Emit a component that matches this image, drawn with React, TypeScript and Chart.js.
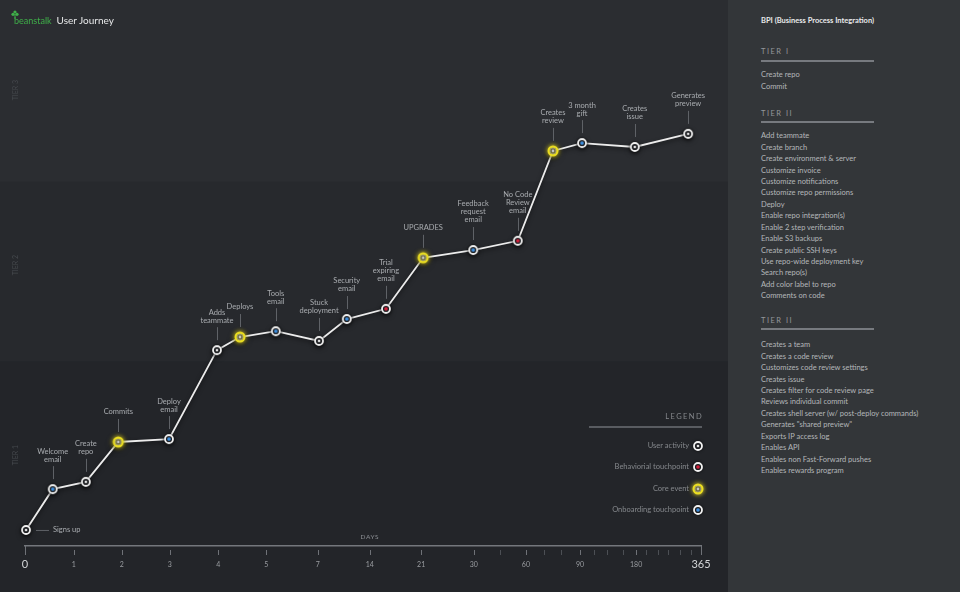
import React, { useEffect, useRef } from "react";
import { Chart, registerables } from "chart.js";

Chart.register(...registerables);

// ---------- data ----------
const axisTickPositions = [0, 7.2, 14.3, 21.4, 28.6, 35.7, 43.3, 51.0, 58.6, 66.4, 74.1, 82.1, 90.4, 100];
const axisTickLabels = ["0", "1", "2", "3", "4", "5", "7", "14", "21", "30", "60", "90", "180", "365"];
const minorTickPositions = [70.3, 76.8, 79.3, 84.2, 86.1, 88.5, 91.9, 93.6, 95.1, 96.9, 98.5];

const eventLabels: string[][] = [
  ["Signs up"],
  ["Welcome", "email"],
  ["Create", "repo"],
  ["Commits"],
  ["Deploy", "email"],
  ["Adds", "teammate"],
  ["Deploys"],
  ["Tools", "email"],
  ["Stuck", "deployment"],
  ["Security", "email"],
  ["Trial", "expiring", "email"],
  ["UPGRADES"],
  ["Feedback", "request", "email"],
  ["No Code", "Review", "email"],
  ["Creates", "review"],
  ["3 month", "gift"],
  ["Creates", "issue"],
  ["Generates", "preview"],
];
const eventTypes = [
  "user", "onboarding", "user", "core", "onboarding", "user", "core", "onboarding", "user",
  "onboarding", "behavioral", "core", "onboarding", "behavioral", "core", "onboarding", "user", "user",
];
const eventDayPosition = [0.15, 4.1, 9.0, 13.8, 21.3, 28.4, 31.8, 37.1, 43.5, 47.6, 53.4, 58.9, 66.3, 72.9, 78.1, 82.4, 90.2, 98.1];
const eventLevel = [3.3, 11.7, 13.2, 21.4, 22.0, 40.3, 43.0, 44.2, 42.2, 46.7, 48.8, 59.3, 60.9, 62.8, 81.3, 82.9, 82.1, 84.8];

const tierLabels = ["TIER 1", "TIER 2", "TIER 3"];
const tierLabelLevels = [18.7, 57.8, 93.8];
const tierBoundaries = [37.9, 74.9];

const legendLabels = ["User activity", "Behaviorial touchpoint", "Core event", "Onboarding touchpoint"];
const legendTypes = ["user", "behavioral", "core", "onboarding"];

const tier1Items = ["Create repo", "Commit"];
const tier2Items = [
  "Add teammate", "Create branch", "Create environment & server", "Customize invoice",
  "Customize notifications", "Customize repo permissions", "Deploy", "Enable repo integration(s)",
  "Enable 2 step verification", "Enable S3 backups", "Create public SSH keys",
  "Use repo-wide deployment key", "Search repo(s)", "Add color label to repo", "Comments on code",
];
const tier3Items = [
  "Creates a team", "Creates a code review", "Customizes code review settings", "Creates issue",
  "Creates filter for code review page", "Reviews individual commit",
  "Creates shell server (w/ post-deploy commands)", 'Generates "shared preview"',
  "Exports IP access log", "Enables API", "Enables non Fast-Forward pushes", "Enables rewards program",
];

// ---------- styles ----------
const FONT = "Lato, 'Open Sans', sans-serif";

function makeMarker(kind: string): HTMLCanvasElement {
  const s = 22;
  const c = document.createElement("canvas");
  c.width = s;
  c.height = s;
  const g = c.getContext("2d")!;
  const m = s / 2;
  if (kind === "core") {
    g.shadowColor = "rgba(240,225,40,0.85)";
    g.shadowBlur = 5;
    g.beginPath();
    g.arc(m, m, 4.4, 0, Math.PI * 2);
    g.fillStyle = "#2a2c30";
    g.fill();
    g.lineWidth = 2.2;
    g.strokeStyle = "#ebde22";
    g.stroke();
    g.shadowBlur = 0;
    g.beginPath();
    g.arc(m, m, 2.9, 0, Math.PI * 2);
    g.lineWidth = 0.7;
    g.strokeStyle = "rgba(255,255,255,0.45)";
    g.stroke();
    g.beginPath();
    g.arc(m, m, 1.4, 0, Math.PI * 2);
    g.fillStyle = "#c4c4c4";
    g.fill();
  } else {
    g.shadowColor = "rgba(0,0,0,0.6)";
    g.shadowBlur = 3;
    g.beginPath();
    g.arc(m, m, 4.0, 0, Math.PI * 2);
    g.fillStyle = "#25272b";
    g.fill();
    g.lineWidth = 1.8;
    g.strokeStyle = "#f2f2f2";
    g.stroke();
    g.shadowBlur = 0;
    const col = kind === "onboarding" ? "#3d8fe0" : kind === "behavioral" ? "#d4203b" : "#e2e2e2";
    g.beginPath();
    g.arc(m, m, kind === "user" ? 1.3 : 1.8, 0, Math.PI * 2);
    g.fillStyle = col;
    g.fill();
  }
  return c;
}

export default function App() {
  const ref = useRef<HTMLCanvasElement | null>(null);

  useEffect(() => {
    document.body.style.margin = "0";
    const canvas = ref.current;
    if (!canvas) return;
    const markers: Record<string, HTMLCanvasElement> = {
      user: makeMarker("user"),
      onboarding: makeMarker("onboarding"),
      behavioral: makeMarker("behavioral"),
      core: makeMarker("core"),
    };

    const bandsPlugin = {
      id: "tierBands",
      beforeDraw(chart: any) {
        const { ctx, width, height } = chart;
        const ys = chart.scales.y;
        const b1 = ys.getPixelForValue(tierBoundaries[0]);
        const b2 = ys.getPixelForValue(tierBoundaries[1]);
        ctx.save();
        ctx.fillStyle = "#2b2d31";
        ctx.fillRect(0, 0, width, b2);
        ctx.fillStyle = "#27292d";
        ctx.fillRect(0, b2, width, b1 - b2);
        ctx.fillStyle = "#232529";
        ctx.fillRect(0, b1, width, height - b1);
        ctx.restore();
      },
    };

    const decoPlugin = {
      id: "journeyDeco",
      beforeDatasetsDraw(chart: any) {
        const ctx = chart.ctx;
        ctx.save();
        ctx.shadowColor = "rgba(0,0,0,0.55)";
        ctx.shadowBlur = 4;
        ctx.shadowOffsetY = 2;
      },
      afterDatasetsDraw(chart: any) {
        const ctx = chart.ctx;
        ctx.restore();
        const meta = chart.getDatasetMeta(0);
        ctx.save();
        ctx.font = `7.5px ${FONT}`;
        ctx.fillStyle = "#a9acb0";
        ctx.strokeStyle = "#5f6267";
        ctx.lineWidth = 1;
        meta.data.forEach((pt: any, i: number) => {
          const lines = eventLabels[i];
          const x = pt.x;
          const y = pt.y;
          if (i === 0) {
            ctx.beginPath();
            ctx.moveTo(x + 10, y + 0.5);
            ctx.lineTo(x + 23, y + 0.5);
            ctx.stroke();
            ctx.textAlign = "left";
            ctx.textBaseline = "middle";
            ctx.fillText(lines[0], x + 27, y);
            return;
          }
          ctx.beginPath();
          ctx.moveTo(Math.round(x) + 0.5, y - 23);
          ctx.lineTo(Math.round(x) + 0.5, y - 10);
          ctx.stroke();
          ctx.textAlign = "center";
          ctx.textBaseline = "middle";
          const n = lines.length;
          lines.forEach((t, j) => {
            ctx.fillText(t, x, y - 30 - (n - 1 - j) * 8);
          });
        });
        ctx.restore();
      },
      afterDraw(chart: any) {
        const { ctx, chartArea } = chart;
        const xs = chart.scales.x;
        const bottom = chartArea.bottom;
        ctx.save();
        ctx.lineWidth = 1;
        axisTickPositions.forEach((v) => {
          const px = Math.round(xs.getPixelForValue(v)) + 0.5;
          const end = v === 0 || v === 100;
          ctx.strokeStyle = "#6f7277";
          ctx.beginPath();
          ctx.moveTo(px, end ? bottom : bottom + 4);
          ctx.lineTo(px, bottom + 9);
          ctx.stroke();
        });
        minorTickPositions.forEach((v) => {
          const px = Math.round(xs.getPixelForValue(v)) + 0.5;
          ctx.strokeStyle = "#4c4f54";
          ctx.beginPath();
          ctx.moveTo(px, bottom + 4);
          ctx.lineTo(px, bottom + 9);
          ctx.stroke();
        });
        ctx.font = `6.5px ${FONT}`;
        (ctx as any).letterSpacing = "0.6px";
        ctx.fillStyle = "#8d9095";
        ctx.textAlign = "center";
        ctx.textBaseline = "middle";
        ctx.fillText("DAYS", xs.getPixelForValue(51), bottom - 9);
        const right = chartArea.right + 1;
        ctx.font = `7.5px ${FONT}`;
        (ctx as any).letterSpacing = "1.4px";
        ctx.fillStyle = "#85888c";
        ctx.textAlign = "right";
        ctx.fillText("LEGEND", right + 1, bottom - 129);
        (ctx as any).letterSpacing = "0px";
        ctx.strokeStyle = "#6c6f74";
        ctx.lineWidth = 1.5;
        ctx.beginPath();
        ctx.moveTo(right - 113, bottom - 119);
        ctx.lineTo(right, bottom - 119);
        ctx.stroke();
        const rows = [bottom - 100, bottom - 79, bottom - 57, bottom - 36];
        legendLabels.forEach((t, i) => {
          ctx.fillStyle = "#85888c";
          ctx.textAlign = "right";
          ctx.fillText(t, right - 13, rows[i]);
          const mk = markers[legendTypes[i]];
          ctx.drawImage(mk, right - 4 - mk.width / 2, rows[i] - mk.height / 2);
        });
        ctx.restore();
      },
    };

    const allTicks = [...axisTickPositions, ...minorTickPositions].sort((a, b) => a - b);
    const isBig = (v: number) => v === 0 || v === 100;

    const chart = new Chart(canvas, {
      type: "line",
      data: {
        datasets: [
          {
            label: "User journey",
            data: eventDayPosition.map((x, i) => ({ x, y: eventLevel[i] })),
            borderColor: "#ececec",
            borderWidth: 1.8,
            tension: 0,
            clip: false,
            pointStyle: (c: any) => markers[eventTypes[c.dataIndex]] as any,
            pointRadius: 6,
            pointHoverRadius: 6,
          } as any,
        ],
      },
      options: {
        animation: false,
        responsive: false,
        events: [],
        layout: { padding: { top: 60, right: 27, left: 0, bottom: 0 } },
        plugins: { legend: { display: false }, tooltip: { enabled: false } },
        scales: {
          x: {
            type: "linear",
            min: 0,
            max: 100,
            afterBuildTicks: (s: any) => {
              s.ticks = allTicks.map((v) => ({ value: v }));
            },
            afterFit: (s: any) => {
              s.height = 46;
            },
            grid: { display: false },
            border: { display: true, color: "#74777c", width: 1.5 },
            ticks: {
              autoSkip: false,
              maxRotation: 0,
              minRotation: 0,
              padding: 4,
              callback: (v: any) => {
                const i = axisTickPositions.indexOf(Number(v));
                return i >= 0 ? axisTickLabels[i] : "";
              },
              font: (c: any) =>
                isBig(c.tick?.value)
                  ? { family: FONT, size: 11, lineHeight: 1.2 }
                  : { family: FONT, size: 7, lineHeight: (11 * 1.2) / 7 },
              color: (c: any) => (isBig(c.tick?.value) ? "#d4d6d8" : "#9a9da1"),
            },
          },
          y: {
            type: "linear",
            min: 0,
            max: 100,
            position: "left",
            afterBuildTicks: (s: any) => {
              s.ticks = tierLabelLevels.map((v) => ({ value: v }));
            },
            afterFit: (s: any) => {
              s.width = 25;
            },
            grid: { display: false },
            border: { display: false },
            ticks: {
              autoSkip: false,
              minRotation: 90,
              maxRotation: 90,
              crossAlign: "center",
              padding: -9,
              callback: (v: any) => tierLabels[tierLabelLevels.indexOf(Number(v))],
              font: { family: FONT, size: 7 },
              color: "#45484d",
            },
          },
        },
      } as any,
      plugins: [bandsPlugin, decoPlugin],
    });
    return () => chart.destroy();
  }, []);

  const itemStyle: React.CSSProperties = {
    fontSize: 7.5,
    lineHeight: "11.42px",
    color: "#b4b7ba",
    whiteSpace: "nowrap",
  };
  const headStyle = (top: number): React.CSSProperties => ({
    position: "absolute",
    left: 33,
    top,
    fontSize: 7.5,
    lineHeight: "11px",
    letterSpacing: 1.5,
    color: "#94979b",
  });
  const ruleStyle = (top: number): React.CSSProperties => ({
    position: "absolute",
    left: 33,
    top,
    width: 113,
    height: 1.5,
    background: "#777a7f",
  });
  const list = (items: string[], top: number) => (
    <div style={{ position: "absolute", left: 33, top }}>
      {items.map((t) => (
        <div key={t} style={itemStyle}>
          {t}
        </div>
      ))}
    </div>
  );

  return (
    <div
      style={{
        position: "absolute",
        left: 0,
        top: 0,
        width: 960,
        height: 592,
        overflow: "hidden",
        background: "#232529",
        fontFamily: FONT,
      }}
    >
      <canvas ref={ref} width={728} height={592} style={{ position: "absolute", left: 0, top: 0, width: 728, height: 592 }} />
      <div style={{ position: "absolute", left: 11, top: 10, height: 20, display: "flex", alignItems: "center" }}>
        <svg width="8" height="9" viewBox="0 0 8 9" style={{ position: "absolute", left: 0, top: 0 }}>
          <circle cx="4" cy="2" r="1.6" fill="#3fae49" />
          <circle cx="2" cy="4.3" r="1.6" fill="#3fae49" />
          <circle cx="6" cy="4.3" r="1.6" fill="#3fae49" />
          <rect x="3.5" y="4" width="1" height="5" fill="#3fae49" />
        </svg>
        <span style={{ marginLeft: 3, fontSize: 9, color: "#3fae49", letterSpacing: 0 }}>beanstalk</span>
        <span style={{ marginLeft: 5, fontSize: 10, color: "#e6e7e8" }}>User Journey</span>
      </div>
      <div style={{ position: "absolute", left: 728, top: 0, width: 232, height: 592, background: "#333639" }}>
        <div style={{ position: "absolute", left: 33, top: 14.5, fontSize: 7.5, lineHeight: "11px", fontWeight: 700, color: "#e9eaeb", whiteSpace: "nowrap" }}>
          BPI (Business Process Integration)
        </div>
        <div style={headStyle(45.5)}>TIER I</div>
        <div style={ruleStyle(60.3)} />
        {list(tier1Items, 69.3)}
        <div style={headStyle(107.5)}>TIER II</div>
        <div style={ruleStyle(121.3)} />
        {list(tier2Items, 130.3)}
        <div style={headStyle(314.5)}>TIER II</div>
        <div style={ruleStyle(328.3)} />
        {list(tier3Items, 339.3)}
      </div>
    </div>
  );
}
